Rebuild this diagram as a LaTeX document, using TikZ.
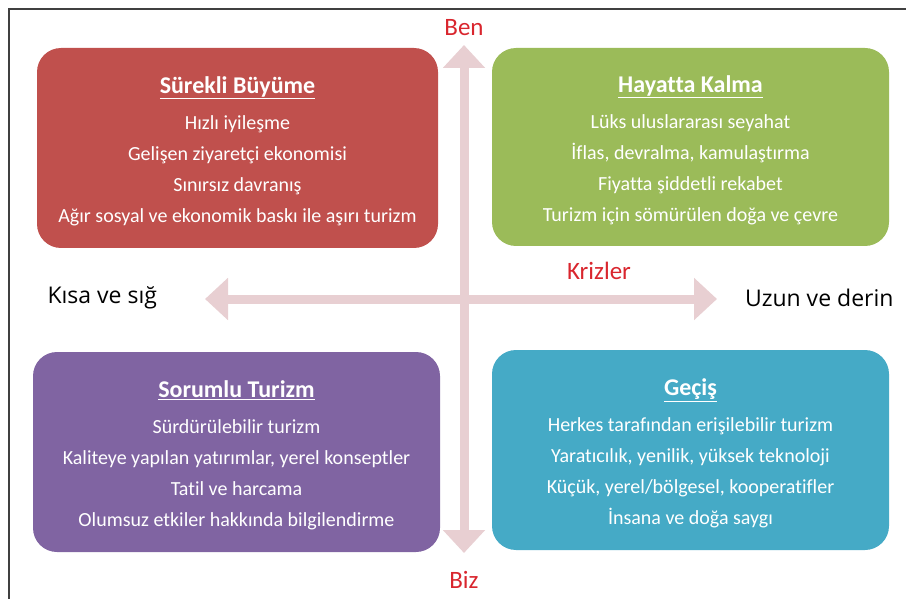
\documentclass[tikz,border=0pt]{standalone}
\usepackage{fontspec}
\setmainfont{Carlito}[Ligatures={NoCommon}]
\newfontfamily\sidefont{Open Sans}
\usepackage{tikz}
\usetikzlibrary{arrows.meta, positioning, calc}

\definecolor{boxred}{HTML}{C0504D}
\definecolor{boxgreen}{HTML}{9BBB59}
\definecolor{boxpurple}{HTML}{8064A2}
\definecolor{boxteal}{HTML}{45AAC6}
\definecolor{axispink}{HTML}{E8CFD2}
\definecolor{labelred}{HTML}{D9262E}

\tikzset{
  quad/.style={rounded corners=24pt, minimum width=401pt, minimum height=200pt,
    text=white, align=center, inner sep=0pt, font=\fontsize{20}{31}\selectfont},
  axis/.style={axispink, line width=9pt,
    {Triangle[length=23pt,width=41pt]}-{Triangle[length=23pt,width=41pt]}},
  pole/.style={text=labelred, font=\fontsize{25}{25}\selectfont},
  side/.style={text=black, font=\sidefont\fontsize{23}{23}\selectfont},
}
\newcommand{\quadtitle}[1]{\rule{0pt}{23pt}{\fontsize{24}{24}\selectfont\bfseries\underline{#1}}\\[5pt]}

\begin{document}
\begin{tikzpicture}[x=1pt, y=-1pt]

        \useasboundingbox (0, 0) rectangle (906, 599);
        %\draw[help lines, step=50] (0, 0) grid (906, 599);

        % frame
        \draw[line width=2pt, black!75] (8.5, 599) -- (8.5, 9.5) -- (906, 9.5);

        % axes
        \coordinate (top) at (464, 45);
        \coordinate (bottom) at (464, 553);
        \coordinate (left) at (205, 299);
        \coordinate (right) at (717, 299);
        \draw[axis] (bottom) -- (top);
        \draw[axis] (left) -- (right);

        \node[pole] (ben) at (464, 28) {Ben};
        \node[pole] (biz) at (464, 580) {Biz};
        \node[pole] (krizler) at (599, 271) {Krizler};
        \node[side, anchor=west] (kisa) at (44, 298) {Kısa ve sığ};
        \node[side, anchor=east] (uzun) at (897, 298) {Uzun ve derin};

        % quadrants
        \node[quad, fill=boxred] (surekli) at (237.5, 148) {\quadtitle{Sürekli Büyüme}
          Hızlı iyileşme\\ Gelişen ziyaretçi ekonomisi\\ Sınırsız davranış\\
          Ağır sosyal ve ekonomik baskı ile aşırı turizm};
        \node[quad, fill=boxgreen, minimum width=397pt, minimum height=198pt] (hayatta) at (690.5, 147) {\quadtitle{Hayatta Kalma}
          Lüks uluslararası seyahat\\ İflas, devralma, kamulaştırma\\ Fiyatta şiddetli rekabet\\
          Turizm için sömürülen doğa ve çevre};
        \node[quad, fill=boxpurple, minimum width=407pt] (sorumlu) at (236.5, 452) {\quadtitle{Sorumlu Turizm}
          Sürdürülebilir turizm\\ Kaliteye yapılan yatırımlar, yerel konseptler\\ Tatil ve harcama\\
          Olumsuz etkiler hakkında bilgilendirme};
        \node[quad, fill=boxteal, minimum width=397pt] (gecis) at (690.5, 450) {\quadtitle{Geçiş}
          Herkes tarafından erişilebilir turizm\\ Yaratıcılık, yenilik, yüksek teknoloji\\ Küçük, yerel/bölgesel, kooperatifler\\
          İnsana ve doğa saygı};
      \end{tikzpicture}
\end{document}
